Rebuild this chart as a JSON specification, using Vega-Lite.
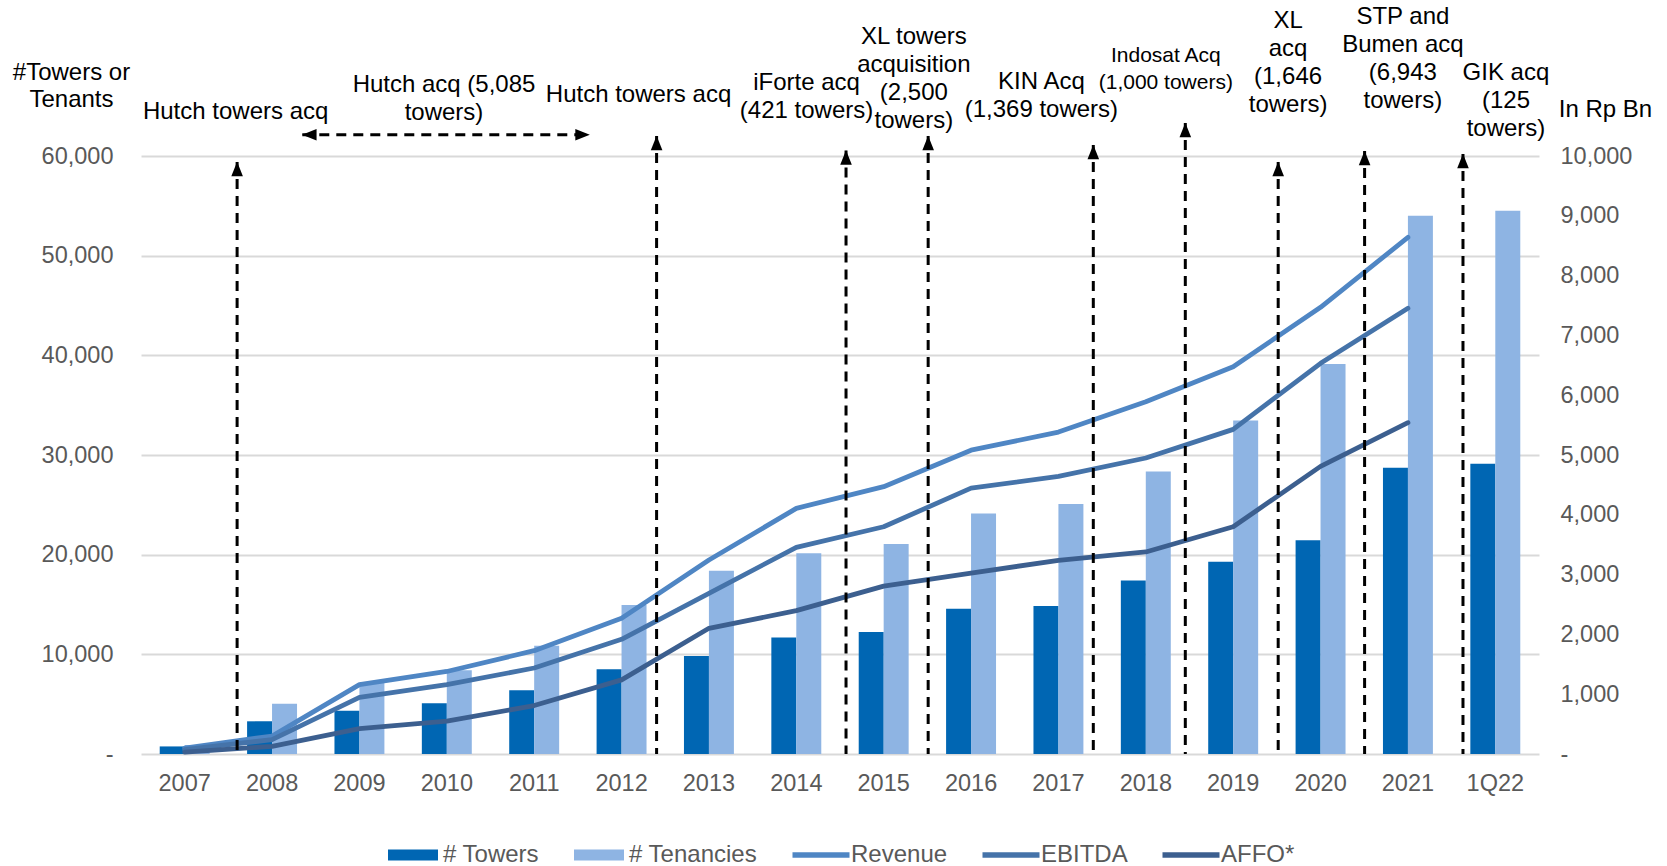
{
  "$schema": "https://vega.github.io/schema/vega-lite/v6.json",
  "width": 1398,
  "height": 598,
  "autosize": {"type": "none"},
  "padding": {"left": 141, "top": 156, "right": 128, "bottom": 112},
  "background": "white",
  "config": {
    "view": {"stroke": null},
    "font": "Liberation Sans",
    "axis": {"labelFont": "Liberation Sans", "titleFont": "Liberation Sans"},
    "legend": {"labelFont": "Liberation Sans"}
  },
  "datasets": {
    "main": [
      {"year": "2007", "series": "# Towers", "value": 760},
      {"year": "2008", "series": "# Towers", "value": 3280},
      {"year": "2009", "series": "# Towers", "value": 4350},
      {"year": "2010", "series": "# Towers", "value": 5100},
      {"year": "2011", "series": "# Towers", "value": 6400},
      {"year": "2012", "series": "# Towers", "value": 8500},
      {"year": "2013", "series": "# Towers", "value": 9830},
      {"year": "2014", "series": "# Towers", "value": 11700},
      {"year": "2015", "series": "# Towers", "value": 12240},
      {"year": "2016", "series": "# Towers", "value": 14580},
      {"year": "2017", "series": "# Towers", "value": 14850},
      {"year": "2018", "series": "# Towers", "value": 17400},
      {"year": "2019", "series": "# Towers", "value": 19300},
      {"year": "2020", "series": "# Towers", "value": 21450},
      {"year": "2021", "series": "# Towers", "value": 28720},
      {"year": "1Q22", "series": "# Towers", "value": 29120},
      {"year": "2007", "series": "# Tenancies", "value": 900},
      {"year": "2008", "series": "# Tenancies", "value": 5050},
      {"year": "2009", "series": "# Tenancies", "value": 7160},
      {"year": "2010", "series": "# Tenancies", "value": 8400},
      {"year": "2011", "series": "# Tenancies", "value": 10870},
      {"year": "2012", "series": "# Tenancies", "value": 14950},
      {"year": "2013", "series": "# Tenancies", "value": 18390},
      {"year": "2014", "series": "# Tenancies", "value": 20140},
      {"year": "2015", "series": "# Tenancies", "value": 21070},
      {"year": "2016", "series": "# Tenancies", "value": 24140},
      {"year": "2017", "series": "# Tenancies", "value": 25080},
      {"year": "2018", "series": "# Tenancies", "value": 28350},
      {"year": "2019", "series": "# Tenancies", "value": 33450},
      {"year": "2020", "series": "# Tenancies", "value": 39120},
      {"year": "2021", "series": "# Tenancies", "value": 54000},
      {"year": "1Q22", "series": "# Tenancies", "value": 54500},
      {"year": "2007", "series": "Revenue", "value": 100},
      {"year": "2008", "series": "Revenue", "value": 300},
      {"year": "2009", "series": "Revenue", "value": 1160},
      {"year": "2010", "series": "Revenue", "value": 1380},
      {"year": "2011", "series": "Revenue", "value": 1728},
      {"year": "2012", "series": "Revenue", "value": 2270},
      {"year": "2013", "series": "Revenue", "value": 3244},
      {"year": "2014", "series": "Revenue", "value": 4108},
      {"year": "2015", "series": "Revenue", "value": 4470},
      {"year": "2016", "series": "Revenue", "value": 5080},
      {"year": "2017", "series": "Revenue", "value": 5383},
      {"year": "2018", "series": "Revenue", "value": 5891},
      {"year": "2019", "series": "Revenue", "value": 6477},
      {"year": "2020", "series": "Revenue", "value": 7469},
      {"year": "2021", "series": "Revenue", "value": 8640},
      {"year": "2007", "series": "EBITDA", "value": 72},
      {"year": "2008", "series": "EBITDA", "value": 240},
      {"year": "2009", "series": "EBITDA", "value": 948},
      {"year": "2010", "series": "EBITDA", "value": 1160},
      {"year": "2011", "series": "EBITDA", "value": 1438},
      {"year": "2012", "series": "EBITDA", "value": 1918},
      {"year": "2013", "series": "EBITDA", "value": 2687},
      {"year": "2014", "series": "EBITDA", "value": 3456},
      {"year": "2015", "series": "EBITDA", "value": 3800},
      {"year": "2016", "series": "EBITDA", "value": 4446},
      {"year": "2017", "series": "EBITDA", "value": 4642},
      {"year": "2018", "series": "EBITDA", "value": 4950},
      {"year": "2019", "series": "EBITDA", "value": 5429},
      {"year": "2020", "series": "EBITDA", "value": 6533},
      {"year": "2021", "series": "EBITDA", "value": 7453},
      {"year": "2007", "series": "AFFO*", "value": 33},
      {"year": "2008", "series": "AFFO*", "value": 128},
      {"year": "2009", "series": "AFFO*", "value": 424},
      {"year": "2010", "series": "AFFO*", "value": 550},
      {"year": "2011", "series": "AFFO*", "value": 810},
      {"year": "2012", "series": "AFFO*", "value": 1240},
      {"year": "2013", "series": "AFFO*", "value": 2102},
      {"year": "2014", "series": "AFFO*", "value": 2397},
      {"year": "2015", "series": "AFFO*", "value": 2807},
      {"year": "2016", "series": "AFFO*", "value": 3025},
      {"year": "2017", "series": "AFFO*", "value": 3239},
      {"year": "2018", "series": "AFFO*", "value": 3379},
      {"year": "2019", "series": "AFFO*", "value": 3800},
      {"year": "2020", "series": "AFFO*", "value": 4810},
      {"year": "2021", "series": "AFFO*", "value": 5541}
    ],
    "arrows": [
      {"pos": 1.100, "tip": 59400},
      {"pos": 5.901, "tip": 62000},
      {"pos": 8.069, "tip": 60550},
      {"pos": 9.009, "tip": 62000},
      {"pos": 10.899, "tip": 61100},
      {"pos": 11.952, "tip": 63300},
      {"pos": 13.015, "tip": 59400},
      {"pos": 14.004, "tip": 60500},
      {"pos": 15.130, "tip": 60200}
    ],
    "harrow": [
      {"from": 1.846, "to": 5.134, "level": 62130}
    ],
    "notes": [
      {"pos": 1.083, "level": 64370, "label": "Hutch towers acq"},
      {"pos": 3.468, "level": 67150, "label": "Hutch acq (5,085\ntowers)"},
      {"pos": 5.694, "level": 66080, "label": "Hutch towers acq"},
      {"pos": 7.617, "level": 67360, "label": "iForte acq\n(421 towers)"},
      {"pos": 8.845, "level": 71950, "label": "XL towers\nacquisition\n(2,500\ntowers)"},
      {"pos": 10.305, "level": 67470, "label": "KIN Acq\n(1,369 towers)"},
      {"pos": 13.128, "level": 73560, "label": "XL\nacq\n(1,646\ntowers)"},
      {"pos": 14.442, "level": 73980, "label": "STP and\nBumen acq\n(6,943\ntowers)"},
      {"pos": 15.622, "level": 68300, "label": "GIK acq\n(125\ntowers)"}
    ],
    "notesSmall": [
      {"pos": 11.729, "level": 70030, "label": "Indosat  Acq\n(1,000 towers)"}
    ]
  },
  "layer": [
    {
      "data": {"name": "main"},
      "transform": [{"filter": {"field": "series", "equal": "# Towers"}}],
      "mark": {"type": "bar"},
      "encoding": {
        "x": {
          "field": "year", "type": "ordinal",
          "sort": ["2007","2008","2009","2010","2011","2012","2013","2014","2015","2016","2017","2018","2019","2020","2021","1Q22"],
          "scale": {"type": "band", "paddingInner": 0.714, "paddingOuter": 0.357, "align": 0.3},
          "axis": null
        },
        "y": {
          "field": "value", "type": "quantitative",
          "scale": {"domain": [0, 60000], "nice": false},
          "axis": {
            "values": [0, 10000, 20000, 30000, 40000, 50000, 60000],
            "labelExpr": "datum.value == 0 ? '-' : format(datum.value, ',')",
            "grid": true, "gridColor": "#D9D9D9", "gridWidth": 2,
            "ticks": false, "domain": false,
            "labelFontSize": 23.5, "labelColor": "#595959", "labelPadding": 28,
            "title": ["#Towers or", "Tenants"],
            "titleAngle": 0, "titleAlign": "center", "titleBaseline": "middle",
            "titleX": -70, "titleY": -84, "titleFontSize": 24, "titleFontWeight": "normal",
            "titleColor": "#000000", "titleLineHeight": 27.6
          }
        },
        "color": {
          "field": "series", "type": "nominal",
          "scale": {
            "domain": ["# Towers", "# Tenancies", "Revenue", "EBITDA", "AFFO*"],
            "range": ["#0066B3", "#8EB4E3", "#4F86C4", "#4573A9", "#3C5F8F"]
          },
          "legend": {
            "title": null, "orient": "none", "direction": "horizontal", "columns": 5,
            "legendX": 247, "legendY": 674, "padding": 0,
            "labelFontSize": 24, "labelColor": "#595959", "labelOffset": 5,
            "columnPadding": 34, "symbolSize": 2500,
            "encode": {
              "symbols": {
                "update": {
                  "shape": {"signal": "datum.value == '# Towers' || datum.value == '# Tenancies' ? 'M-1,-0.22H1V0.22H-1Z' : 'M-1.14,-0.11H1.14V0.11H-1.14Z'"},
                  "fill": {"signal": "scale('color', datum.value)"},
                  "stroke": {"value": "transparent"},
                  "strokeWidth": {"value": 0},
                  "opacity": {"value": 1},
                  "fillOpacity": {"value": 1}
                }
              }
            }
          }
        }
      }
    },
    {
      "data": {"name": "main"},
      "transform": [{"filter": {"field": "series", "equal": "# Tenancies"}}],
      "mark": {"type": "bar"},
      "encoding": {
        "x": {
          "field": "year", "type": "ordinal",
          "sort": ["2007","2008","2009","2010","2011","2012","2013","2014","2015","2016","2017","2018","2019","2020","2021","1Q22"],
          "scale": {"type": "band", "paddingInner": 0.714, "paddingOuter": 0.357, "align": 0.7},
          "axis": null
        },
        "y": {"field": "value", "type": "quantitative", "scale": {"domain": [0, 60000], "nice": false}, "axis": null},
        "color": {"field": "series", "type": "nominal"}
      }
    },
    {
      "data": {"name": "main"},
      "transform": [{"filter": {"field": "series", "oneOf": ["Revenue", "EBITDA", "AFFO*"]}}],
      "mark": {"type": "line", "strokeWidth": 4.8, "strokeCap": "round", "strokeJoin": "round"},
      "encoding": {
        "x": {
          "field": "year", "type": "ordinal",
          "sort": ["2007","2008","2009","2010","2011","2012","2013","2014","2015","2016","2017","2018","2019","2020","2021","1Q22"],
          "scale": {"type": "band", "domain": ["2007","2008","2009","2010","2011","2012","2013","2014","2015","2016","2017","2018","2019","2020","2021","1Q22"], "paddingInner": 0, "paddingOuter": 0},
          "axis": {"title": null, "ticks": false, "domain": false, "labelAngle": 0, "labelFontSize": 23.5, "labelColor": "#595959", "labelPadding": 17, "grid": false}
        },
        "y": {
          "field": "value", "type": "quantitative",
          "scale": {"domain": [0, 10000], "nice": false},
          "axis": {
            "orient": "right",
            "values": [0, 1000, 2000, 3000, 4000, 5000, 6000, 7000, 8000, 9000, 10000],
            "labelExpr": "datum.value == 0 ? '-' : format(datum.value, ',')",
            "grid": false, "ticks": false, "domain": false,
            "labelFontSize": 23.5, "labelColor": "#595959", "labelPadding": 21,
            "title": "In Rp Bn",
            "titleAngle": 0, "titleAlign": "center", "titleBaseline": "middle",
            "titleX": 66, "titleY": -47, "titleFontSize": 24, "titleFontWeight": "normal",
            "titleColor": "#000000"
          }
        },
        "color": {"field": "series", "type": "nominal"}
      }
    },
    {
      "data": {"name": "arrows"},
      "mark": {"type": "rule", "color": "#000000", "strokeWidth": 3, "strokeDash": [10, 7]},
      "encoding": {
        "x": {"field": "pos", "type": "quantitative", "scale": {"domain": [0, 16], "nice": false, "zero": false}, "axis": null},
        "y": {"field": "tip", "type": "quantitative", "scale": {"domain": [0, 60000], "nice": false}, "axis": null},
        "y2": {"datum": 0}
      }
    },
    {
      "data": {"name": "arrows"},
      "mark": {"type": "point", "shape": "M0,-1L0.8,1L-0.8,1Z", "filled": true, "color": "#000000", "opacity": 1, "size": 210, "yOffset": 7},
      "encoding": {
        "x": {"field": "pos", "type": "quantitative", "scale": {"domain": [0, 16], "nice": false, "zero": false}, "axis": null},
        "y": {"field": "tip", "type": "quantitative", "scale": {"domain": [0, 60000], "nice": false}, "axis": null}
      }
    },
    {
      "data": {"name": "harrow"},
      "mark": {"type": "rule", "color": "#000000", "strokeWidth": 3, "strokeDash": [10, 7]},
      "encoding": {
        "x": {"field": "from", "type": "quantitative", "scale": {"domain": [0, 16], "nice": false, "zero": false}, "axis": null},
        "x2": {"field": "to"},
        "y": {"field": "level", "type": "quantitative", "scale": {"domain": [0, 60000], "nice": false}, "axis": null}
      }
    },
    {
      "data": {"name": "harrow"},
      "mark": {"type": "point", "shape": "M-1,0L1,-0.8L1,0.8Z", "filled": true, "color": "#000000", "opacity": 1, "size": 210, "xOffset": 7},
      "encoding": {
        "x": {"field": "from", "type": "quantitative", "scale": {"domain": [0, 16], "nice": false, "zero": false}, "axis": null},
        "y": {"field": "level", "type": "quantitative", "scale": {"domain": [0, 60000], "nice": false}, "axis": null}
      }
    },
    {
      "data": {"name": "harrow"},
      "mark": {"type": "point", "shape": "M1,0L-1,-0.8L-1,0.8Z", "filled": true, "color": "#000000", "opacity": 1, "size": 210, "xOffset": -7},
      "encoding": {
        "x": {"field": "to", "type": "quantitative", "scale": {"domain": [0, 16], "nice": false, "zero": false}, "axis": null},
        "y": {"field": "level", "type": "quantitative", "scale": {"domain": [0, 60000], "nice": false}, "axis": null}
      }
    },
    {
      "data": {"name": "notes"},
      "mark": {"type": "text", "align": "center", "baseline": "middle", "fontSize": 24, "lineHeight": 28, "lineBreak": "\n", "color": "#000000"},
      "encoding": {
        "x": {"field": "pos", "type": "quantitative", "scale": {"domain": [0, 16], "nice": false, "zero": false}, "axis": null},
        "y": {"field": "level", "type": "quantitative", "scale": {"domain": [0, 60000], "nice": false}, "axis": null},
        "text": {"field": "label"}
      }
    },
    {
      "data": {"name": "notesSmall"},
      "mark": {"type": "text", "align": "center", "baseline": "middle", "fontSize": 21, "lineHeight": 26.5, "lineBreak": "\n", "color": "#000000"},
      "encoding": {
        "x": {"field": "pos", "type": "quantitative", "scale": {"domain": [0, 16], "nice": false, "zero": false}, "axis": null},
        "y": {"field": "level", "type": "quantitative", "scale": {"domain": [0, 60000], "nice": false}, "axis": null},
        "text": {"field": "label"}
      }
    }
  ],
  "resolve": {"scale": {"x": "independent", "y": "independent"}}
}
